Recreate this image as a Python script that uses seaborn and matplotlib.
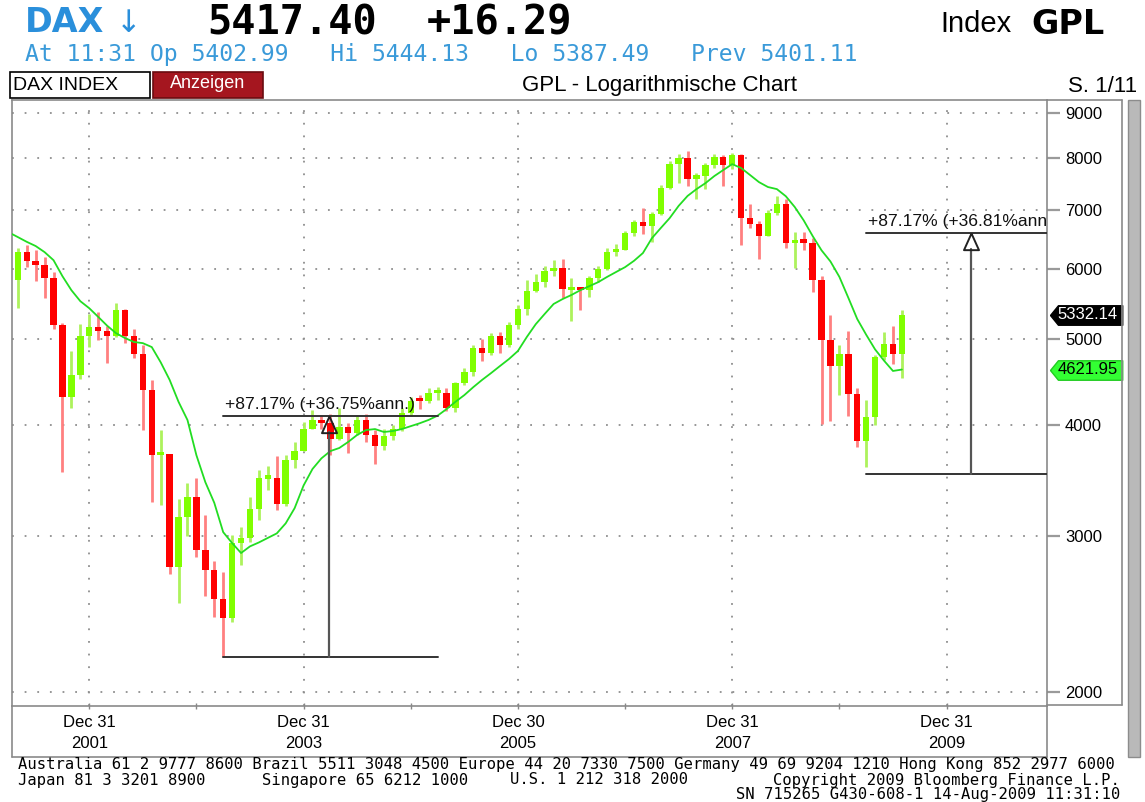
import numpy as np
import pandas as pd
import matplotlib
matplotlib.use("Agg")
import matplotlib.pyplot as plt
import seaborn as sns
from matplotlib.patches import Rectangle
from matplotlib.lines import Line2D
from matplotlib import transforms
from matplotlib.ticker import FixedLocator, NullLocator

# ---------------- data (monthly DAX candles, Mar 2001 - Jul 2009) ----------------
months = pd.period_range("2001-03", "2009-07", freq="M").astype(str)

opens = [6208, 5830, 6265, 6123, 6058, 5861, 5188, 4308, 4559, 5040,
         5160, 5108, 5039, 5397, 5041, 4818, 4383, 3700, 3712, 2769, 3153, 3320,
         2893, 2748, 2547, 2424, 2942, 2983, 3221, 3480, 3487, 3257, 3656, 3745,
         3965, 4058, 4018, 3857, 3985, 3921, 4053, 3895, 3785, 3893, 3960, 4126,
         4256, 4254, 4345, 4349, 4185, 4460, 4587, 4887, 4830, 5044, 4929, 5193,
         5408, 5674, 5796, 5970, 6009, 5680, 5690, 5682, 5859, 6004, 6268, 6309,
         6597, 6789, 6716, 6917, 7409, 7884, 8007, 7584, 7638, 7862, 8020, 7871,
         8067, 6851, 6748, 6535, 6949, 7097, 6418, 6479, 6422, 5831, 4988, 4669,
         4810, 4338, 3844, 4085, 4770, 4941, 4809]
highs = [6300, 6340, 6380, 6300, 6190, 5960, 5220, 4850, 5200, 5340,
         5370, 5170, 5490, 5410, 5130, 4930, 4500, 3950, 3715, 3300, 3440, 3490,
         3170, 2810, 2730, 3010, 3070, 3320, 3560, 3600, 3690, 3700, 3830, 4030,
         4160, 4110, 4120, 4180, 4020, 4100, 4120, 3950, 3960, 4000, 4180, 4300,
         4330, 4400, 4420, 4410, 4480, 4640, 4930, 5000, 5080, 5100, 5230, 5470,
         5830, 5930, 6050, 6140, 6160, 5870, 5730, 5900, 6050, 6330, 6400, 6620,
         6820, 7040, 6960, 7470, 7940, 8090, 8151, 7700, 7900, 8100, 8070, 8120,
         8100, 7110, 6800, 7000, 7250, 7200, 6600, 6600, 6500, 5900, 5330, 4930,
         5110, 4400, 4270, 4800, 5100, 5170, 5400]
lows = [5600, 5425, 6030, 5820, 5570, 5130, 3540, 4180, 4510, 4900,
        4990, 4706, 5030, 4950, 4760, 3950, 3280, 3250, 2720, 2519, 3000, 2840,
        2566, 2430, 2188, 2400, 2780, 2950, 3125, 3380, 3210, 3240, 3580, 3740,
        3960, 3960, 3700, 3850, 3720, 3900, 3830, 3620, 3750, 3850, 3940, 4100,
        4170, 4240, 4270, 4150, 4140, 4440, 4540, 4730, 4800, 4830, 4900, 5130,
        5330, 5660, 5720, 5900, 5560, 5243, 5400, 5580, 5800, 5990, 6200, 6300,
        6530, 6580, 6440, 6900, 7390, 7500, 7440, 7200, 7380, 7800, 7450, 7780,
        6384, 6670, 6167, 6530, 6900, 6330, 6010, 6300, 5660, 4014, 4040, 4330,
        4100, 3780, 3589, 4000, 4740, 4690, 4524]
closes = [5830, 6265, 6123, 6058, 5861, 5188, 4308, 4559, 5040, 5160,
          5108, 5039, 5397, 5041, 4818, 4383, 3700, 3712, 2769, 3153, 3320, 2893,
          2748, 2547, 2424, 2942, 2983, 3221, 3487, 3490, 3257, 3656, 3745, 3965,
          4058, 4018, 3857, 3985, 3921, 4053, 3895, 3785, 3893, 3960, 4126, 4256,
          4254, 4351, 4355, 4185, 4460, 4587, 4887, 4830, 5044, 4929, 5193, 5408,
          5674, 5796, 5970, 6009, 5693, 5690, 5682, 5859, 6004, 6268, 6309, 6597,
          6789, 6716, 6917, 7409, 7884, 8007, 7584, 7638, 7862, 8020, 7871, 8067,
          6851, 6748, 6535, 6949, 7097, 6418, 6479, 6422, 5831, 4988, 4669, 4810,
          4338, 3844, 4085, 4770, 4941, 4809, 5332.14]
ma = [6600, 6520, 6440, 6370, 6270, 6140, 5890, 5680, 5520, 5420,
      5300, 5180, 5080, 5016, 4965, 4950, 4900, 4710, 4500, 4250,
      4054, 3700, 3450, 3270, 3030, 2945, 2870, 2920, 2950, 2985,
      3020, 3100, 3225, 3420, 3570, 3670, 3740, 3770, 3830, 3900,
      3950, 3960, 3930, 3940, 3960, 3990, 4020, 4055, 4100, 4170,
      4250, 4325, 4415, 4500, 4580, 4665, 4750, 4850, 5030, 5200,
      5340, 5480, 5550, 5610, 5680, 5740, 5800, 5880, 5955, 6030,
      6130, 6255, 6500, 6675, 6850, 7070, 7255, 7385, 7500, 7640,
      7760, 7880, 7800, 7660, 7520, 7425, 7385, 7250, 7050, 6810,
      6540, 6300, 6120, 5880, 5570, 5270, 5060, 4870, 4730, 4605,
      4621.95]

y_ticks = [2000, 3000, 4000, 5000, 6000, 7000, 8000, 9000]
x_major_idx = [9, 33, 57, 81, 105]
x_major_labels = ["Dec 31\n2001", "Dec 31\n2003", "Dec 30\n2005", "Dec 31\n2007", "Dec 31\n2009"]
x_minor_idx = [21, 45, 69, 93]

# two "percent change" measurements drawn on the chart
meas_low = [2190, 3520]
meas_gain = [87.17, 87.17]
meas_ann = [36.75, 36.81]
meas_x0 = [24.0, 96.0]
meas_x1 = [48.0, 120.0]
meas_xv = [35.85, 107.7]

# ---------------- styling ----------------
sns.set_theme(style="white")
ARIAL = ["Liberation Sans", "DejaVu Sans"]
plt.rcParams["font.family"] = ARIAL

W, H = 1145, 802
fig = plt.figure(figsize=(W / 100, H / 100), dpi=100, facecolor="white")

def fx(px):
    return px / W

def fy(py):
    return 1 - py / H

ax = fig.add_axes([fx(12), fy(706), fx(1047) - fx(12), fy(100) - fy(706)])
ax.set_facecolor("white")
ax.set_yscale("log")
ax.set_ylim(1929, 9308)
ax.set_xlim(0.35, 116.25)

df = pd.DataFrame({"month": months, "open": opens, "high": highs,
                   "low": lows, "close": closes, "ma": ma})
df["pos"] = np.arange(len(df))
up = df["close"] >= df["open"]
body_lo = np.minimum(df["open"], df["close"]).to_numpy(dtype=float)
body_hi = np.maximum(df["open"], df["close"]).to_numpy(dtype=float)
body_hi = np.maximum(body_hi, body_lo * 1.009)
body_col = np.where(up, "#80FF00", "#FF0000")
wick_col = np.where(up, "#ADF25C", "#FF8080")

ax.vlines(df["pos"], df["low"], df["high"], colors=wick_col, linewidth=2.0, zorder=2)
ax.bar(df["pos"], body_hi - body_lo, bottom=body_lo, width=0.72,
       color=body_col, linewidth=0, zorder=3)
sns.lineplot(data=df, x="pos", y="ma", ax=ax, color="#22DD22", linewidth=1.3, zorder=4)
ax.set_xlabel("")
ax.set_ylabel("")

# measurements
tri = [(0, 0), (-0.45, -1), (0.45, -1), (0, 0)]
for lo, g, an, x0, x1, xv in zip(meas_low, meas_gain, meas_ann, meas_x0, meas_x1, meas_xv):
    top = lo * (1 + g / 100)
    ax.plot([x0, x1], [lo, lo], color="#333333", lw=1.4, zorder=5)
    ax.plot([x0, x1], [top, top], color="#333333", lw=1.4, zorder=5)
    ax.plot([xv, xv], [lo, top * np.exp(-16 / 385)], color="#555555", lw=1.6, zorder=5)
    ax.plot([xv], [top], marker=tri, ms=24, mfc="none", mec="#222222", mew=1.4, zorder=6)
    txt = ax.annotate(f"+{g:.2f}% (+{an:.2f}%ann.)", xy=(x0, top), xytext=(1, 3),
                      textcoords="offset points", ha="left", va="bottom", fontsize=12.6,
                      color="#111111", annotation_clip=False, zorder=6)
    txt.set_clip_on(True)
    txt.set_clip_path(ax.patch)

# axes, ticks, grid
ax.yaxis.tick_right()
ax.yaxis.set_major_locator(FixedLocator(y_ticks))
ax.yaxis.set_minor_locator(NullLocator())
ax.set_yticklabels([str(v) for v in y_ticks])
ax.xaxis.set_major_locator(FixedLocator(x_major_idx))
ax.xaxis.set_minor_locator(FixedLocator(x_minor_idx))
ax.set_xticklabels(x_major_labels)
for t in ax.get_xticklabels():
    t.set_linespacing(1.5)
ax.tick_params(axis="y", which="major", direction="out", length=9, width=1.6,
               color="#9a9a9a", labelsize=12, pad=4, right=True, left=False,
               labelcolor="black")
ax.tick_params(axis="x", which="both", direction="inout", length=5, width=1,
               color="#888888", labelsize=12, pad=4, bottom=True, labelcolor="black")
ax.grid(True, which="major", color="#8f8f8f", linestyle=(0, (1, 6)), linewidth=1.3)
ax.set_axisbelow(True)
for s in ax.spines.values():
    s.set_color("#8a8a8a")
    s.set_linewidth(1.2)

# price labels on the right axis
trans = transforms.blended_transform_factory(ax.transAxes, ax.transData)
tag = [(0, 0), (0.11, 0.135), (1, 0.135), (1, -0.135), (0.11, -0.135), (0, 0)]
last_close = closes[-1]
last_ma = ma[-1]
ax.plot([1.0025], [last_close], marker=tag, ms=104, mfc="black", mec="black",
        transform=trans, clip_on=False, zorder=7)
ax.text(1.0395, last_close, f"{last_close:.2f}", transform=trans, ha="center",
        va="center", color="white", fontsize=12, clip_on=False, zorder=8)
ax.plot([1.0025], [last_ma], marker=tag, ms=104, mfc="#33FF33", mec="#22CC22",
        transform=trans, clip_on=False, zorder=7)
ax.text(1.0395, last_ma, f"{last_ma:.2f}", transform=trans, ha="center",
        va="center", color="black", fontsize=12, clip_on=False, zorder=8)

# ---------------- frame decorations ----------------
def fline(x0, y0, x1, y1, color="#8a8a8a", lw=1.2):
    fig.add_artist(Line2D([fx(x0), fx(x1)], [fy(y0), fy(y1)], color=color, lw=lw))

fline(12, 706, 12, 757)
fline(12, 757, 1047, 757)
fline(1047, 706, 1047, 757)
fline(1047, 100, 1122, 100)
fline(1122, 100, 1122, 705)
fline(1047, 705, 1122, 705)
fig.add_artist(Rectangle((fx(1128), fy(757)), fx(12), fy(100) - fy(757),
                         transform=fig.transFigure, fc="#b9b9b9", ec="#8c8c8c", lw=1))

# ---------------- header ----------------
blue = "#2A8FDB"
fig.text(fx(25), fy(23), "DAX", color=blue, fontsize=24, fontweight="bold",
         family=["DejaVu Sans"], va="center", ha="left")
fig.text(fx(116), fy(24), "↓", color=blue, fontsize=22, family=["DejaVu Sans"],
         va="center", ha="left")
fig.text(fx(292), fy(23), "5417.40", color="black", fontsize=29, fontweight="bold",
         family=["DejaVu Sans Mono"], va="center", ha="center")
fig.text(fx(500), fy(23), "+16.29", color="black", fontsize=29, fontweight="bold",
         family=["DejaVu Sans Mono"], va="center", ha="center")
fig.text(fx(940), fy(24), "Index", color="black", fontsize=21, family=ARIAL,
         va="center", ha="left")
fig.text(fx(1105), fy(24), "GPL", color="black", fontsize=24, fontweight="bold",
         family=["DejaVu Sans"], va="center", ha="right")
fig.text(fx(25), fy(55), "At 11:31 Op 5402.99   Hi 5444.13   Lo 5387.49   Prev 5401.11",
         color="#3A9AD9", fontsize=16.7, family=["DejaVu Sans Mono"], va="center", ha="left")

fig.add_artist(Rectangle((fx(10), fy(98)), fx(140), fy(72) - fy(98),
                         transform=fig.transFigure, fc="white", ec="black", lw=1.2))
fig.text(fx(13), fy(86), "DAX INDEX", color="black", fontsize=14, family=ARIAL,
         va="center", ha="left")
fig.add_artist(Rectangle((fx(153), fy(98)), fx(110), fy(72) - fy(98),
                         transform=fig.transFigure, fc="#A5161F", ec="#6a0c10", lw=1.2))
fig.text(fx(208), fy(84), "Anzeigen", color="white", fontsize=13, family=ARIAL,
         va="center", ha="center")
fig.text(fx(659), fy(86), "GPL - Logarithmische Chart", color="black", fontsize=16,
         family=ARIAL, va="center", ha="center")
fig.text(fx(1137), fy(86), "S. 1/11", color="black", fontsize=16, family=ARIAL,
         va="center", ha="right")

# ---------------- footer ----------------
foot = dict(color="black", fontsize=11.2, family=["DejaVu Sans Mono"], va="center")
fig.text(fx(18), fy(765), "Australia 61 2 9777 8600 Brazil 5511 3048 4500 Europe 44 20 7330 7500 "
         "Germany 49 69 9204 1210 Hong Kong 852 2977 6000", ha="left", **foot)
fig.text(fx(18), fy(780), "Japan 81 3 3201 8900", ha="left", **foot)
fig.text(fx(262), fy(780), "Singapore 65 6212 1000", ha="left", **foot)
fig.text(fx(510), fy(780), "U.S. 1 212 318 2000", ha="left", **foot)
fig.text(fx(1120), fy(780), "Copyright 2009 Bloomberg Finance L.P.", ha="right", **foot)
fig.text(fx(1120), fy(795), "SN 715265 G430-608-1 14-Aug-2009 11:31:10", ha="right", **foot)

fig.savefig("out.png", dpi=100, facecolor="white")
